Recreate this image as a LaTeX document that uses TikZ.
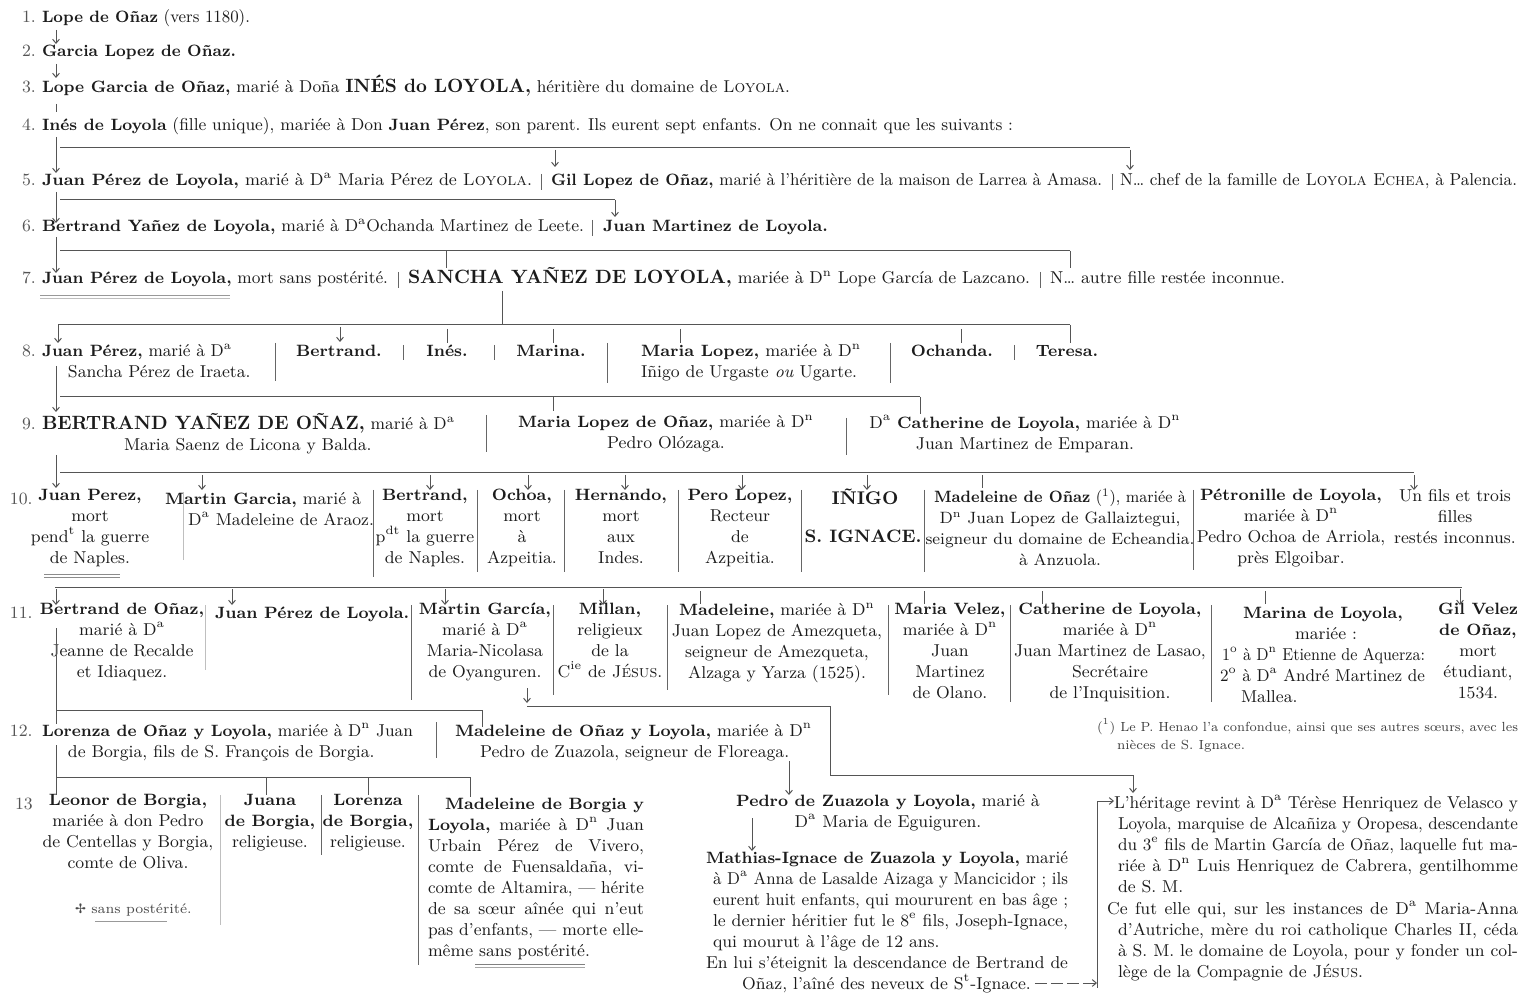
\documentclass[tikz,border=0pt]{standalone}
\usepackage{graphicx}
\usetikzlibrary{arrows.meta}
\font\dvsym="DejaVu Sans" at 6.5pt
\definecolor{ink}{HTML}{1C1C1C}
\definecolor{lnc}{HTML}{555555}
\newcommand\fit[2]{\resizebox{\dimexpr #1pt/2\relax}{\height}{#2}}
\newsavebox\jbox
\newcommand\jf[2]{\sbox\jbox{#2}\ifdim\wd\jbox>\dimexpr #1pt/2\relax\relax\resizebox{\dimexpr #1pt/2\relax}{\height}{\usebox\jbox}\else\makebox[\dimexpr #1pt/2\relax][s]{#2}\fi}
\newcommand\bcaps{\fontsize{9.6}{10.5}\selectfont\bfseries}
\newcommand\nm[1]{{\fontsize{8.2}{10.5}\selectfont\bfseries #1}}
\newcommand\Dfa{D\textsuperscript{a}}
\newcommand\Dfn{D\textsuperscript{n}}
\newcommand\cVA[4]{\coordinate (#1s) at (#2,#3);\coordinate (#1e) at (#2,#4);\draw[arr] (#1s) -- (#1e);}
\newcommand\cVL[4]{\coordinate (#1s) at (#2,#3);\coordinate (#1e) at (#2,#4);\draw[ln] (#1s) -- (#1e);}
\newcommand\cHL[4]{\coordinate (#1s) at (#3,#2);\coordinate (#1e) at (#4,#2);\draw[ln] (#1s) -- (#1e);}
\newcommand\cSP[4]{\coordinate (#1s) at (#2,#3);\coordinate (#1e) at (#2,#4);\draw[sep] (#1s) -- (#1e);}
\newcommand\cSL[4]{\coordinate (#1s) at (#2,#3);\coordinate (#1e) at (#2,#4);\draw[sepl] (#1s) -- (#1e);}
\begin{document}
\begin{tikzpicture}[x=0.5pt,y=-0.5pt,
  t/.style={inner sep=0pt,outer sep=0pt,text=ink,font={\fontsize{8.6}{10.5}\selectfont},anchor=base west},
  tc/.style={t,anchor=base},
  col/.style={t,align=center,anchor=north,execute at begin node=\strut},
  num/.style={t,text=ink!75},
  fn/.style={t,font={\fontsize{6.6}{9}\selectfont},text=ink!85},
  ln/.style={draw=lnc,line width=0.5pt},
  arr/.style={ln,-{Straight Barb[length=2pt,width=3.4pt]}},
  sep/.style={draw=black!60,line width=0.5pt},
  sepl/.style={draw=black!25,line width=0.5pt}]
\useasboundingbox (0,0) rectangle (1521,994);
\fill[white] (0,0) rectangle (1521,994);

% ---- numbers
\node[num] (n1) at (22,23) {1.};
\node[num] (n2) at (22,57) {2.};
\node[num] (n3) at (22,93) {3.};
\node[num] (n4) at (22,131) {4.};
\node[num] (n5) at (22,186) {5.};
\node[num] (n6) at (22,232) {6.};
\node[num] (n7) at (22,284) {7.};
\node[num] (n8) at (22,357) {8.};
\node[num] (n9) at (22,430) {9.};
\node[num] (n10) at (10,504) {10.};
\node[num] (n11) at (10,618) {11.};
\node[num] (n12) at (10,736) {12.};
\node[num] (n13) at (15,809) {13};

% ---- rows 1-7
\node[t] (r1) at (42,23) {\fit{208}{\nm{Lope de Oñaz} (vers 1180).}};
\node[t] (r2) at (42,57) {\fit{194}{\nm{Garcia Lopez de Oñaz.}}};
\node[t] (r3) at (42,93) {\fit{748}{\nm{Lope Garcia de Oñaz,} marié à Doña {\bcaps INÉS do LOYOLA,} héritière du domaine de \textsc{Loyola}.}};
\node[t] (r4) at (42,131) {\fit{971}{\nm{Inés de Loyola} (fille unique), mariée à Don \nm{Juan Pérez}, son parent. Ils eurent sept enfants. On ne connait que les suivants :}};
\node[t] (r5a) at (42,186) {\fit{490}{\nm{Juan Pérez de Loyola,} marié à \Dfa{} Maria Pérez de \textsc{Loyola}.}};
\node[t] (r5b) at (551,186) {\fit{551}{\nm{Gil Lopez de Oñaz,} marié à l'héritière de la maison de Larrea à Amasa.}};
\node[t] (r5c) at (1120,186) {\fit{397}{N… chef de la famille de \textsc{Loyola Echea}, à Palencia.}};
\node[t] (r6a) at (42,232) {\fit{542}{\nm{Bertrand Yañez de Loyola,} marié à \Dfa{}Ochanda Martinez de Leete.}};
\node[t] (r6b) at (603,232) {\fit{225}{\nm{Juan Martinez de Loyola.}}};
\node[t] (r7a) at (42,284) {\fit{346}{\nm{Juan Pérez de Loyola,} mort sans postérité.}};
\node[t] (r7b) at (408,284) {\fit{622}{{\bcaps SANCHA YAÑEZ DE LOYOLA,} mariée à \Dfn{} Lope García de Lazcano.}};
\node[t] (r7c) at (1050,284) {\fit{235}{N… autre fille restée inconnue.}};

% ---- row 8
\node[t] (r8a1) at (42,357) {\fit{190}{\nm{Juan Pérez,} marié à \Dfa}};
\node[t] (r8a2) at (68,378) {Sancha Pérez de Iraeta.};
\node[tc] (r8b) at (339,357) {\nm{Bertrand.}};
\node[tc] (r8c) at (447,357) {\nm{Inés.}};
\node[tc] (r8d) at (551,357) {\nm{Marina.}};
\node[t] (r8e1) at (641,357) {\fit{220}{\nm{Maria Lopez,} mariée à \Dfn}};
\node[t] (r8e2) at (641,378) {Iñigo de Urgaste \textit{ou} Ugarte.};
\node[tc] (r8f) at (952,357) {\nm{Ochanda.}};
\node[tc] (r8g) at (1067,357) {\nm{Teresa.}};

% ---- row 9
\node[t] (r9a1) at (42,430) {\fit{413}{{\bcaps BERTRAND YAÑEZ DE OÑAZ,} marié à \Dfa}};
\node[t] (r9a2) at (124,451) {Maria Saenz de Licona y Balda.};
\node[col] (r9b) at (666,415) {\nm{Maria Lopez de Oñaz,} mariée à \Dfn\\Pedro Olózaga.};
\node[col] (r9c) at (1025,415) {\Dfa{} \nm{Catherine de Loyola,} mariée à \Dfn\\Juan Martinez de Emparan.};

% ---- row 10
\node[col] (r10a) at (90,489) {\nm{Juan Perez,}\\mort\\pend\textsuperscript{t} la guerre\\de Naples.};
\node[t] (r10b1) at (165,504) {\nm{Martin Garcia,} marié à};
\node[t] (r10b2) at (188,525) {\Dfa{} Madeleine de Araoz.};
\node[col] (r10c) at (425,489) {\nm{Bertrand,}\\mort\\p\textsuperscript{dt} la guerre\\de Naples.};
\node[col] (r10d) at (522,489) {\nm{Ochoa,}\\mort\\à\\Azpeitia.};
\node[col] (r10e) at (621,489) {\nm{Hernando,}\\mort\\aux\\Indes.};
\node[col] (r10f) at (740,489) {\nm{Pero Lopez,}\\Recteur\\de\\Azpeitia.};
\node[tc] (r10g1) at (865,505) {\fontsize{9.2}{10.5}\selectfont\bfseries IÑIGO};
\node[tc] (r10g2) at (863,542) {\fontsize{9}{10.5}\selectfont\bfseries S. IGNACE.};
\node[col,font={\fontsize{8.2}{10.5}\selectfont}] (r10h) at (1060,489) {\fit{252}{\nm{Madeleine de Oñaz} (\textsuperscript{1}), mariée à}\\\Dfn{} Juan Lopez de Gallaiztegui,\\seigneur du domaine de Echeandia.\\à Anzuola.};
\node[col] (r10i) at (1291,489) {\nm{Pétronille de Loyola,}\\mariée à \Dfn\\Pedro Ochoa de Arriola,\\près Elgoibar.};
\node[col] (r10j) at (1455,489) {Un fils et trois\\filles\\restés inconnus.};

% ---- row 11
\node[col] (r11a) at (122,603) {\nm{Bertrand de Oñaz,}\\marié à \Dfa\\Jeanne de Recalde\\et Idiaquez.};
\node[t] (r11b) at (215,618) {\nm{Juan Pérez de Loyola.}};
\node[col] (r11c) at (485,603) {\nm{Martin García,}\\marié à \Dfa\\Maria-Nicolasa\\de Oyanguren.};
\node[col] (r11d) at (610,603) {\nm{Millan,}\\religieux\\de la\\C\textsuperscript{ie} de \textsc{Jésus}.};
\node[col] (r11e) at (777,603) {\nm{Madeleine,} mariée à \Dfn\\Juan Lopez de Amezqueta,\\seigneur de Amezqueta,\\Alzaga y Yarza (1525).};
\node[col] (r11f) at (950,603) {\nm{Maria Velez,}\\mariée à \Dfn\\Juan\\Martinez\\de Olano.};
\node[col] (r11g) at (1110,603) {\nm{Catherine de Loyola,}\\mariée à \Dfn\\Juan Martinez de Lasao,\\Secrétaire\\de l'Inquisition.};
\node[tc] (r11h1) at (1323,618) {\nm{Marina de Loyola,}};
\node[tc] (r11h2) at (1326,639) {mariée :};
\node[t] (r11h3) at (1222,660) {\fit{203}{1\textsuperscript{o} à \Dfn{} Etienne de Aquerza:}};
\node[t] (r11h4) at (1220,681) {\fit{205}{2\textsuperscript{o} à \Dfa{} André Martinez de}};
\node[t] (r11h5) at (1241,702) {Mallea.};
\node[col] (r11i) at (1478,603) {\nm{Gil Velez}\\\nm{de Oñaz,}\\mort\\étudiant,\\1534.};
\node[fn] (fn1) at (1097,731) {\fit{421}{(\textsuperscript{1}) Le P. Henao l'a confondue, ainsi que ses autres sœurs, avec les}};
\node[fn] (fn2) at (1117,749) {nièces de S. Ignace.};

% ---- row 12
\node[t] (r12a1) at (42,736) {\fit{371}{\nm{Lorenza de Oñaz y Loyola,} mariée à \Dfn{} Juan}};
\node[t] (r12a2) at (68,757) {de Borgia, fils de S. François de Borgia.};
\node[t] (r12b1) at (455,736) {\fit{357}{\nm{Madeleine de Oñaz y Loyola,} mariée à \Dfn}};
\node[t] (r12b2) at (480,757) {Pedro de Zuazola, seigneur de Floreaga.};

% ---- row 13
\node[col] (r13a) at (128,794) {\nm{Leonor de Borgia,}\\mariée à don Pedro\\de Centellas y Borgia,\\comte de Oliva.};
\node[t,font={\fontsize{7}{9}\selectfont},text=ink!80] (r13s) at (75,913) {{\dvsym ✢} sans postérité.};
\node[col] (r13b) at (270,794) {\nm{Juana}\\\nm{de Borgia,}\\religieuse.};
\node[col] (r13c) at (368,794) {\nm{Lorenza}\\\nm{de Borgia,}\\religieuse.};
\node[t] (r13d1) at (445,809) {\jf{199}{\nm{Madeleine de Borgia y}}};
\node[t] (r13d2) at (428,830) {\jf{216}{\nm{Loyola,} mariée à \Dfn{} Juan}};
\node[t] (r13d3) at (428,851) {\jf{216}{Urbain Pérez de Vivero,}};
\node[t] (r13d4) at (428,872) {\jf{216}{comte de Fuensaldaña, vi-}};
\node[t] (r13d5) at (428,893) {\jf{216}{comte de Altamira, — hérite}};
\node[t] (r13d6) at (428,914) {\jf{216}{de sa sœur aînée qui n'eut}};
\node[t] (r13d7) at (428,935) {\jf{216}{pas d'enfants, — morte elle-}};
\node[t] (r13d8) at (428,956) {même sans postérité.};
\node[col] (pz) at (888,794) {\nm{Pedro de Zuazola y Loyola,} marié à\\\Dfa{} Maria de Eguiguren.};
\node[t] (m1) at (706,863) {\jf{362}{\nm{Mathias-Ignace de Zuazola y Loyola,} marié}};
\node[t] (m2) at (713,884) {\jf{355}{à \Dfa{} Anna de Lasalde Aizaga y Mancicidor ; ils}};
\node[t] (m3) at (713,905) {\jf{355}{eurent huit enfants, qui moururent en bas âge ;}};
\node[t] (m4) at (713,926) {\jf{355}{le dernier héritier fut le 8\textsuperscript{e} fils, Joseph-Ignace,}};
\node[t] (m5) at (713,947) {qui mourut à l'âge de 12 ans.};
\node[t] (m6) at (706,968) {\jf{362}{En lui s'éteignit la descendance de Bertrand de}};
\node[t] (m7) at (742,989) {Oñaz, l'aîné des neveux de S\textsuperscript{t}-Ignace.};
\node[t] (h1) at (1114,808) {\jf{404}{L'héritage revint à \Dfa{} Térèse Henriquez de Velasco y}};
\node[t] (h2) at (1118,829) {\jf{400}{Loyola, marquise de Alcañiza y Oropesa, descendante}};
\node[t] (h3) at (1118,850) {\jf{400}{du 3\textsuperscript{e} fils de Martin García de Oñaz, laquelle fut ma-}};
\node[t] (h4) at (1118,871) {\jf{400}{riée à \Dfn{} Luis Henriquez de Cabrera, gentilhomme}};
\node[t] (h5) at (1118,892) {de S. M.};
\node[t] (h6) at (1107,914) {\jf{411}{Ce fut elle qui, sur les instances de \Dfa{} Maria-Anna}};
\node[t] (h7) at (1118,935) {\jf{400}{d'Autriche, mère du roi catholique Charles II, céda}};
\node[t] (h8) at (1118,956) {\jf{400}{à S. M. le domaine de Loyola, pour y fonder un col-}};
\node[t] (h9) at (1118,977) {lège de la Compagnie de \textsc{Jésus}.};

% ---- connectors rows 1-8
\cVA{a1}{56}{30}{44}
\cVA{a2}{56}{64}{78}
\cVL{a3}{56}{104}{112}
\cVA{a4}{56}{137}{173}
\cHL{h4l}{148}{60}{1130}
\cVA{a4g}{555}{150}{167}
\cVA{a4n}{1130}{150}{170}
\cVA{a5}{56}{192}{223}
\cHL{h5l}{200}{60}{615}
\cVA{a5j}{615}{200}{217}
\cVA{a6}{56}{237}{273}
\cHL{h6l}{251}{60}{1070}
\cVL{a6s}{446}{251}{268}
\cVL{a6n}{1070}{251}{268}
\draw[draw=black!40,line width=0.5pt] (r7a.base west) ++(-2,12) coordinate (u7a) -- ++(190,0) coordinate (u7b);
\draw[draw=black!25,line width=0.5pt] (u7a) ++(0,3) -- ++(190,0);
\cVL{a7}{502}{291}{325}
\cHL{h7l}{325}{58}{1070}
\cVA{a7a}{58}{325}{343}
\cVA{a7b}{340}{327}{342}
\cVL{a7c}{447}{329}{343}
\cVL{a7d}{553}{329}{343}
\cVL{a7e}{680}{329}{343}
\cVL{a7f}{961}{329}{343}
\cVL{a7g}{1070}{325}{343}
% separators rows 5-9
\cSP{s5a}{541}{174}{190}
\cSP{s5b}{1112}{174}{190}
\cSP{s6}{592}{220}{236}
\cSP{s7a}{398}{272}{288}
\cSP{s7b}{1040}{272}{288}
\cSP{s8a}{275}{343}{381}
\cSP{s8b}{403}{345}{360}
\cSP{s8c}{494}{345}{360}
\cSP{s8d}{607}{343}{383}
\cSP{s8e}{890}{343}{383}
\cSP{s8f}{1014}{345}{360}
\cVA{a8}{56}{366}{412}
\cHL{h8l}{397}{60}{920}
\cVL{a8m}{553}{397}{411}
\cVL{a8c}{920}{397}{414}
\cSP{s9a}{486}{415}{452}
\cSP{s9b}{846}{418}{455}
% row 9 -> 10
\cVA{a9}{56}{455}{488}
\cHL{h9l}{473}{60}{1414}
\cVA{a9b}{202}{475}{490}
\cVA{a9c}{430}{475}{490}
\cVA{a9d}{528}{475}{490}
\cVA{a9e}{625}{475}{490}
\cVA{a9f}{742}{475}{490}
\cVA{a9g}{867}{475}{490}
\cVL{a9h}{982}{475}{488}
\cVA{a9j}{1414}{475}{490}
\cSL{s10z}{183}{492}{560}
\cSP{s10a}{373}{490}{577}
\cSP{s10b}{477}{490}{572}
\cSP{s10c}{564}{490}{572}
\cSP{s10d}{678}{490}{572}
\cSP{s10e}{801}{490}{572}
\cSP{s10f}{924}{490}{572}
\cSP{s10g}{1193}{490}{570}
\draw[draw=black!45,line width=0.5pt] (r10a.south) ++(-46,5) coordinate (u10a) -- ++(76,0);
\draw[draw=black!45,line width=0.5pt] (u10a) ++(0,3) -- ++(76,0);
% row 10 -> 11
\cHL{h10l}{587}{55}{1462}
\cVA{a10a}{56}{589}{605}
\cVA{a10b}{232}{589}{605}
\cVA{a10c}{445}{589}{605}
\cVA{a10d}{603}{589}{605}
\cVL{a10e}{700}{591}{604}
\cVL{a10f}{924}{591}{604}
\cVL{a10g}{1042}{591}{604}
\cVL{a10h}{1265}{591}{604}
\cVA{a10i}{1460}{589}{605}
\cSL{s11a}{205}{605}{670}
\cSP{s11b}{411}{605}{700}
\cSP{s11c}{553}{605}{695}
\cSP{s11d}{667}{605}{690}
\cSP{s11e}{888}{605}{695}
\cSP{s11f}{1010}{605}{702}
\cSP{s11g}{1211}{605}{702}
% row 11 -> 12
\cVL{a11}{56}{628}{724}
\cHL{h11l}{710}{56}{482}
\cVL{a11m}{482}{710}{727}
\cVA{a11c}{527}{688}{703}
\coordinate (mg1) at (527,706);
\coordinate (mg2) at (830,706);
\coordinate (mg3) at (830,775);
\coordinate (mg4) at (1133,775);
\coordinate (mg5) at (1133,793);
\draw[ln] (mg1) -- (mg2) -- (mg3) -- (mg4);
\draw[arr] (mg4) -- (mg5);
\cSP{s12}{436}{722}{758}
\cVA{a12m}{789}{761}{795}
% row 12 -> 13
\cVL{a12}{56}{745}{795}
\cHL{h12l}{777}{56}{470}
\cVL{a12b}{266}{777}{795}
\cVL{a12c}{368}{777}{795}
\cVL{a12d}{470}{777}{797}
\cSL{s13a}{220}{795}{925}
\cSP{s13b}{321}{795}{855}
\cSP{s13c}{418}{795}{965}
\draw[draw=black!40,line width=0.5pt] (r13s.base west) ++(20,8) -- ++(72,0);
\draw[draw=black!50,line width=0.5pt] (r13d8.base west) ++(47,8) coordinate (u13) -- ++(110,0);
\draw[draw=black!35,line width=0.5pt] (u13) ++(0,3) -- ++(110,0);
\cVA{apz}{752}{818}{851}
% bracket
\coordinate (bk1) at (1097,801);
\coordinate (bk2) at (1097,988);
\coordinate (dstart) at ([xshift=2pt,yshift=3pt]m7.base east);
\draw[ln] (bk1) -- (bk2);
\draw[arr] (bk1) -- (h1.base west |- bk1);
\draw[ln,dash pattern=on 6pt off 2pt,-{Straight Barb[length=2pt,width=3.4pt]}] (dstart) -- (bk2 |- dstart);
\end{tikzpicture}
\end{document}
